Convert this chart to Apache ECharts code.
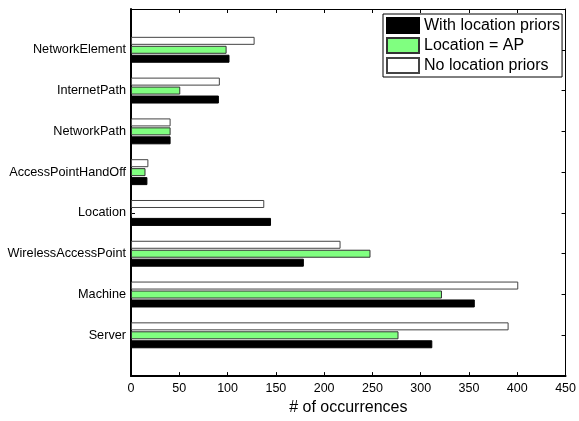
<!DOCTYPE html>
<html>
<head>
<meta charset="utf-8">
<script src="https://cdn.jsdelivr.net/npm/echarts@6/dist/echarts.min.js"></script>
<style>
  html, body { margin: 0; padding: 0; background: #fff; }
  #main { width: 579px; height: 421px; }
</style>
</head>
<body>
<div id="main"></div>
<script>
// categories bottom -> top
var categories = ['Server', 'Machine', 'WirelessAccessPoint', 'Location',
  'AccessPointHandOff', 'NetworkPath', 'InternetPath', 'NetworkElement'];
var withPriors = [312, 356, 179, 145, 17, 41, 91, 102];
var locationAP = [277, 322, 248, 1, 15, 41, 51, 99];
var noPriors = [391, 401, 217, 138, 18, 41, 92, 128];
var xTicks = [0, 50, 100, 150, 200, 250, 300, 350, 400, 450];

// pad with an empty slot at each end, like the 0..9 range of the original
var yCats = [''].concat(categories, ['']);
function pad(arr) { return [null].concat(arr, [null]); }

var font = 'Liberation Sans, Arial, Helvetica, sans-serif';
var myChart = echarts.init(document.getElementById('main'));

var tickInside = { show: true, inside: true, length: 4, lineStyle: { color: '#000' } };

// echarts puts the first series on top, so the series go white, green, black
myChart.setOption({
  animation: false,
  textStyle: { fontFamily: font },
  grid: { left: 131, right: 12, top: 9, bottom: 36, containLabel: false },
  legend: {
    orient: 'vertical',
    left: 383, top: 14,
    padding: [3, 2, 3, 3],
    itemGap: 3,
    itemWidth: 32, itemHeight: 15,
    icon: 'rect',
    backgroundColor: '#fff',
    borderColor: '#000', borderWidth: 1,
    textStyle: { fontSize: 16, color: '#000', fontFamily: font },
    data: ['With location priors', 'Location = AP', 'No location priors']
  },
  xAxis: [{
    type: 'value', position: 'bottom',
    min: 0, max: 450, interval: 50,
    name: '# of occurrences', nameLocation: 'middle', nameGap: 20,
    nameTextStyle: { fontSize: 16, color: '#000', fontFamily: font },
    axisLine: { show: true, lineStyle: { color: '#000', width: 2 } },
    axisTick: tickInside,
    axisLabel: { fontSize: 12.5, color: '#000', margin: 6,
      formatter: function (v) { return xTicks.indexOf(v) >= 0 ? String(v) : ''; } },
    splitLine: { show: false }
  }, {
    type: 'value', position: 'top',
    min: 0, max: 450, interval: 50,
    axisLine: { show: true, onZero: false, lineStyle: { color: '#000', width: 1 } },
    axisTick: tickInside,
    axisLabel: { show: false },
    splitLine: { show: false }
  }],
  yAxis: [{
    type: 'category', position: 'left',
    data: yCats, boundaryGap: false,
    axisLine: { show: true, onZero: false, lineStyle: { color: '#000', width: 2 } },
    axisTick: { show: true, inside: true, length: 4, lineStyle: { color: '#000' },
      interval: function (i, v) { return v !== ''; } },
    axisLabel: { fontSize: 12.7, color: '#000', margin: 5, interval: 0 }
  }, {
    type: 'category', position: 'right',
    data: yCats, boundaryGap: false,
    axisLine: { show: true, onZero: false, lineStyle: { color: '#000', width: 1 } },
    axisTick: { show: true, inside: true, length: 4, lineStyle: { color: '#000' },
      interval: function (i, v) { return v !== ''; } },
    axisLabel: { show: false }
  }],
  series: [{
    name: 'No location priors', type: 'bar',
    data: pad(noPriors), barWidth: 8, barGap: '12%',
    itemStyle: { color: '#fff', borderColor: '#444', borderWidth: 1 }
  }, {
    name: 'Location = AP', type: 'bar',
    data: pad(locationAP), barWidth: 8, barGap: '12%',
    itemStyle: { color: '#80ff80', borderColor: '#333', borderWidth: 1 }
  }, {
    name: 'With location priors', type: 'bar',
    data: pad(withPriors), barWidth: 8, barGap: '12%',
    itemStyle: { color: '#000', borderColor: '#000', borderWidth: 1 }
  }]
});
</script>
</body>
</html>
